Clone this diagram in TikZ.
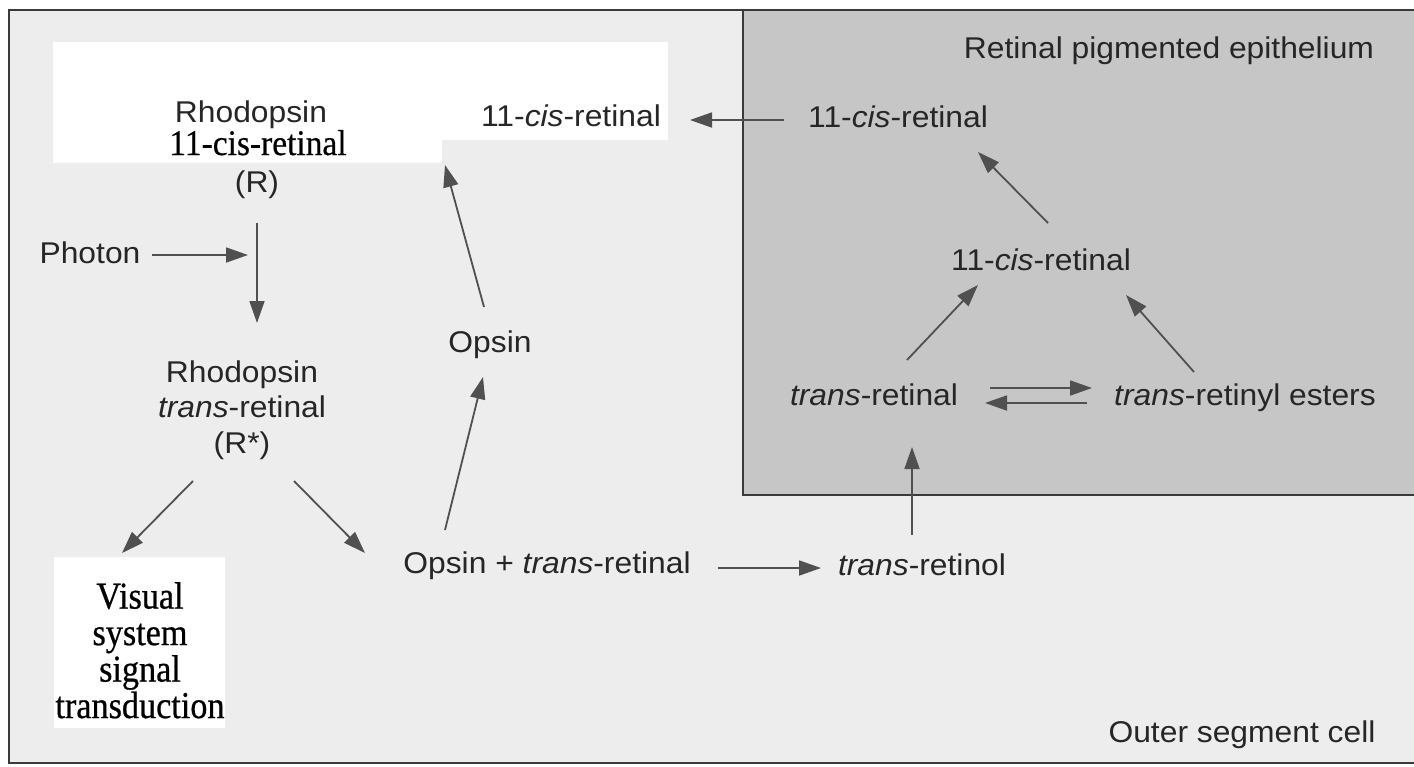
\documentclass[tikz,border=0pt]{standalone}
\usepackage{fontspec}
\setmainfont{Liberation Serif}
\newfontfamily\sansf[FakeStretch=1.06]{Liberation Sans}
\newfontfamily\cserif[FakeStretch=0.9,FakeBold=0.6]{Liberation Serif}
\newfontfamily\tserif[FakeStretch=0.93,FakeBold=0.5]{Liberation Serif}
\usetikzlibrary{arrows.meta}
\definecolor{ink}{HTML}{262626}
\definecolor{arrowc}{HTML}{505050}
\definecolor{rpefill}{HTML}{C6C6C6}
\definecolor{bgpaper}{HTML}{EDEDED}
\definecolor{framec}{HTML}{3A3A3A}
\tikzset{
  lbl/.style={font=\sansf\fontsize{30}{36}\selectfont, text=ink, inner sep=0pt, anchor=base},
  slbl/.style={font=\tserif\fontsize{36}{36.5}\selectfont, text=black, inner sep=0pt, anchor=base},
  vlbl/.style={font=\cserif\fontsize{38}{36.5}\selectfont, text=black, inner sep=0pt, align=center},
  arr/.style={draw=arrowc, line width=1.8pt, -{Triangle[length=22pt,width=15pt]}},
  frameline/.style={draw=framec, line width=2.5pt}
}
\begin{document}
\begin{tikzpicture}[x=1pt,y=-1pt]
\useasboundingbox (0,0) rectangle (1414,766);
\fill[white] (0,0) rectangle (1414,766);
% paper and pasted-over patches
\fill[bgpaper] (9,10) rectangle (1414,763);
\fill[white] (53,42) rectangle (442,163);
\fill[white] (442,42) rectangle (668,140);
\fill[white] (54,557) rectangle (225,728);
% outer segment cell frame
\draw[frameline] (1420,10) -- (9,10) -- (9,763) -- (1420,763);
% retinal pigmented epithelium box
\filldraw[fill=rpefill, frameline] (1420,10) -- (743,10) -- (743,495) -- (1420,495);

% labels
\node[lbl] (rpe) at (1169,58) {Retinal pigmented epithelium};
\node[lbl] (osc) at (1242,742) {Outer segment cell};
\node[lbl] (r1a) at (251,122) {Rhodopsin};
\node[slbl] (r1b) at (258,155) {11-cis-retinal};
\node[lbl] (r1c) at (257,192) {(R)};
\node[lbl] (photon) at (90,263) {Photon};
\node[lbl] (r2a) at (242,382) {Rhodopsin};
\node[lbl] (r2b) at (242,417) {\textit{trans}-retinal};
\node[lbl] (r2c) at (242,453) {(R*)};
\node[vlbl, anchor=north] (vis) at (140,582) {Visual\\system\\signal\\transduction};
\node[lbl] (cisout) at (571,126) {11-\textit{cis}-retinal};
\node[lbl] (cisrpe) at (898,127) {11-\textit{cis}-retinal};
\node[lbl] (cismid) at (1041,270) {11-\textit{cis}-retinal};
\node[lbl] (trl) at (874,405) {\textit{trans}-retinal};
\node[lbl] (tre) at (1245,405) {\textit{trans}-retinyl esters};
\node[lbl] (trol) at (922,575) {\textit{trans}-retinol};
\node[lbl] (opt) at (547,573) {Opsin + \textit{trans}-retinal};
\node[lbl] (opsin) at (490,352) {Opsin};

% connectors
\draw[arr] ([shift={(62,-8)}]photon.base) -- ([shift={(-9,63)}]r1c.base);
\draw[arr] ([shift={(0,31)}]r1c.base) -- ([shift={(15,-59)}]r2a.base);
\draw[arr] ([shift={(-49,28)}]r2c.base) -- ([shift={(-18,-29)}]vis.north);
\draw[arr] ([shift={(52,28)}]r2c.base) -- ([shift={(-182,-20)}]opt.base);
\draw[arr] ([shift={(-102,-43)}]opt.base) -- ([shift={(-7,25)}]opsin.base);
\draw[arr] ([shift={(-6,-45)}]opsin.base) -- ([shift={(-126,39)}]cisout.base);
\draw[arr] ([shift={(-114,-7)}]cisrpe.base) -- ([shift={(119,-6)}]cisout.base);
\draw[arr] ([shift={(7,-47)}]cismid.base) -- ([shift={(80,25)}]cisrpe.base);
\draw[arr] ([shift={(33,-45)}]trl.base) -- ([shift={(-63,15)}]cismid.base);
\draw[arr] ([shift={(-51,-33)}]tre.base) -- ([shift={(85,25)}]cismid.base);
\draw[arr] ([shift={(116,-17)}]trl.base) -- ([shift={(-153,-17)}]tre.base);
\draw[arr] ([shift={(-158,-2)}]tre.base) -- ([shift={(111,-2)}]trl.base);
\draw[arr] ([shift={(171,-5)}]opt.base) -- ([shift={(-101,-7)}]trol.base);
\draw[arr] ([shift={(-10,-40)}]trol.base) -- ([shift={(38,42)}]trl.base);
\end{tikzpicture}
\end{document}
